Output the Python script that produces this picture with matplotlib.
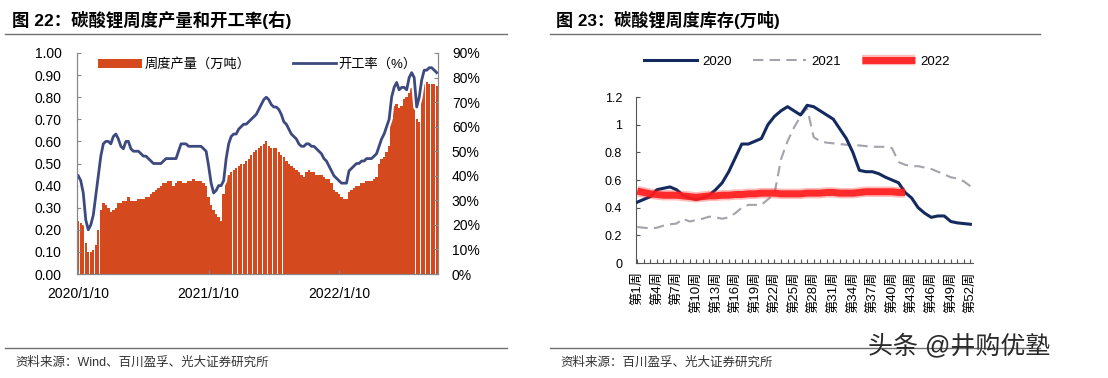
import matplotlib
matplotlib.use("Agg")
import matplotlib.pyplot as plt
import matplotlib.patheffects as pe
import numpy as np

plt.rcParams['font.family'] = ['Liberation Sans', 'Noto Sans CJK SC', 'DejaVu Sans']

# ---- left chart: weekly output (10k t) and operating rate (%) ----
output_wt = [0.24, 0.23, 0.22, 0.14, 0.10, 0.10, 0.11, 0.13, 0.20, 0.29,
             0.32, 0.31, 0.30, 0.28, 0.29, 0.30, 0.32, 0.32, 0.33, 0.33,
             0.35, 0.33, 0.33, 0.33, 0.34, 0.34, 0.34, 0.35, 0.35, 0.36,
             0.37, 0.38, 0.39, 0.40, 0.41, 0.41, 0.42, 0.42, 0.40, 0.41,
             0.42, 0.42, 0.41, 0.41, 0.42, 0.42, 0.43, 0.42, 0.42, 0.42,
             0.41, 0.40, 0.35, 0.31, 0.29, 0.27, 0.26, 0.24, 0.36, 0.42,
             0.45, 0.46, 0.47, 0.48, 0.49, 0.50, 0.50, 0.51, 0.52, 0.54,
             0.55, 0.56, 0.57, 0.58, 0.59, 0.60, 0.58, 0.57, 0.57, 0.57,
             0.55, 0.54, 0.53, 0.51, 0.50, 0.49, 0.48, 0.47, 0.46, 0.45,
             0.44, 0.46, 0.47, 0.46, 0.46, 0.45, 0.45, 0.45, 0.44, 0.43,
             0.43, 0.41, 0.38, 0.37, 0.36, 0.35, 0.34, 0.34, 0.37, 0.38,
             0.39, 0.40, 0.40, 0.41, 0.41, 0.42, 0.42, 0.42, 0.43, 0.44,
             0.50, 0.52, 0.53, 0.55, 0.58, 0.70, 0.76, 0.77, 0.75, 0.76,
             0.79, 0.80, 0.82, 0.84, 0.79, 0.70, 0.69, 0.82, 0.86, 0.87,
             0.86, 0.86, 0.86, 0.85]
op_rate = [40, 38, 33, 22, 18, 20, 24, 32, 40, 48,
           53, 54, 54, 53, 56, 57, 55, 52, 51, 54,
           54, 51, 50, 50, 50, 49, 48, 48, 47, 46,
           45, 45, 45, 45, 46, 47, 47, 47, 47, 47,
           50, 53, 53, 53, 52, 52, 52, 52, 52, 52,
           51, 50, 44, 37, 33, 34, 36, 36, 38, 47,
           53, 56, 57, 57, 59, 60, 61, 61, 62, 63,
           64, 65, 67, 69, 71, 72, 71, 69, 68, 68,
           67, 65, 62, 61, 59, 57, 56, 55, 53, 52,
           52, 53, 53, 52, 52, 51, 50, 49, 47, 46,
           44, 42, 40, 39, 38, 37, 37, 37, 42, 43,
           44, 45, 45, 46, 46, 47, 47, 47, 48, 49,
           52, 55, 57, 60, 63, 72, 76, 78, 75, 76,
           76, 75, 80, 82, 80, 68, 72, 79, 83, 83,
           84, 84, 83, 82]
date_labels = ['2020/1/10', '2021/1/10', '2022/1/10']
date_pos = [0, 52, 104]

# ---- right chart: weekly inventory (10k t) ----
weeks = list(range(1, 53))
inv_2020 = [0.44, 0.46, 0.48, 0.53, 0.54, 0.55, 0.53, 0.49, 0.47, 0.46,
            0.47, 0.49, 0.53, 0.58, 0.66, 0.76, 0.86, 0.86, 0.88, 0.90,
            1.00, 1.06, 1.10, 1.13, 1.10, 1.07, 1.14, 1.13, 1.10, 1.07,
            1.04, 0.97, 0.90, 0.80, 0.67, 0.66, 0.66, 0.645, 0.62, 0.60,
            0.58, 0.51, 0.47, 0.40, 0.36, 0.33, 0.34, 0.34, 0.30, 0.29,
            0.285, 0.28]
inv_2021 = [0.26, 0.255, 0.25, 0.255, 0.27, 0.28, 0.285, 0.32, 0.30, 0.31,
            0.32, 0.335, 0.33, 0.32, 0.33, 0.36, 0.40, 0.42, 0.42, 0.42,
            0.46, 0.50, 0.75, 0.88, 0.98, 1.06, 1.12, 0.91, 0.88, 0.87,
            0.865, 0.86, 0.855, 0.85, 0.85, 0.845, 0.84, 0.84, 0.84, 0.83,
            0.73, 0.71, 0.70, 0.70, 0.69, 0.68, 0.66, 0.64, 0.62, 0.61,
            0.59, 0.555]
inv_2022 = [0.52, 0.51, 0.50, 0.495, 0.49, 0.49, 0.49, 0.485, 0.48, 0.475,
            0.48, 0.485, 0.485, 0.49, 0.49, 0.495, 0.495, 0.50, 0.50, 0.505,
            0.505, 0.505, 0.50, 0.50, 0.50, 0.50, 0.505, 0.505, 0.505, 0.51,
            0.51, 0.505, 0.505, 0.505, 0.51, 0.515, 0.515, 0.515, 0.515, 0.515,
            0.51, 0.51]

fig = plt.figure(figsize=(11.08, 3.78), dpi=100)
W, H = 1108, 378

def px(x0, y0, x1, y1):
    return [x0 / W, 1 - y1 / H, (x1 - x0) / W, (y1 - y0) / H]

# titles, rules, sources
fig.text(12 / W, 1 - 20 / H, '图 22：碳酸锂周度产量和开工率(右)', fontsize=12.5,
         fontweight='bold', va='center', ha='left')
fig.text(556 / W, 1 - 20 / H, '图 23：碳酸锂周度库存(万吨)', fontsize=12.3,
         fontweight='bold', va='center', ha='left')
for x0, x1 in [(5, 507), (550, 1040)]:
    fig.add_artist(plt.Line2D([x0 / W, x1 / W], [1 - 34 / H] * 2, color='#707070', lw=1))
    fig.add_artist(plt.Line2D([x0 / W, x1 / W], [1 - 348 / H] * 2, color='#707070', lw=1))
fig.text(15 / W, 1 - 363 / H, '资料来源：Wind、百川盈孚、光大证券研究所', fontsize=9,
         va='center', ha='left', color='#333333')
fig.text(560 / W, 1 - 363 / H, '资料来源：百川盈孚、光大证券研究所', fontsize=9,
         va='center', ha='left', color='#333333')
fig.text(868 / W, 1 - 346 / H, '头条 @井购优塾', fontsize=18, va='center', ha='left',
         color='#2a2a2a', zorder=10)

# ---- left chart ----
ax = fig.add_axes(px(77, 53, 438, 274))
x = np.arange(len(output_wt))
bars = ax.bar(x, output_wt, width=0.94, color='#d44a1e', linewidth=0,
              label='周度产量（万吨）')
ax.set_xlim(-0.5, len(output_wt) - 0.5)
ax.set_ylim(0, 1.0)
ax.set_yticks(np.arange(0, 1.01, 0.1))
ax.set_yticklabels([f'{v:.2f}' for v in np.arange(0, 1.01, 0.1)])
ax.set_xticks(date_pos)
ax.set_xticklabels(date_labels)
ax.tick_params(axis='y', direction='in', length=3, pad=11, labelsize=10, color='#888888')
ax.tick_params(axis='x', direction='in', length=3, pad=9, labelsize=10, color='#888888')
ax.spines['top'].set_visible(False)
for s in ['left', 'bottom', 'right']:
    ax.spines[s].set_color('#888888')

ax2 = ax.twinx()
line, = ax2.plot(x, op_rate, color='#3d4a7f', lw=2, label='开工率（%）',
                 path_effects=[pe.Stroke(linewidth=5, foreground='white'), pe.Normal()])
ax2.set_ylim(0, 90)
ax2.set_yticks(range(0, 91, 10))
ax2.set_yticklabels([f'{v}%' for v in range(0, 91, 10)])
ax2.tick_params(axis='y', direction='in', length=3, pad=10, labelsize=10, color='#888888')
ax2.spines['top'].set_visible(False)
for s in ['left', 'bottom', 'right']:
    ax2.spines[s].set_color('#888888')

ax2.legend([bars, line], ['周度产量（万吨）', '开工率（%）'], loc='upper center',
           bbox_to_anchor=(0.5, 1.03), ncol=2, frameon=False, fontsize=9.5,
           handlelength=3.3, columnspacing=3.2, handletextpad=0.2)

# ---- right chart ----
bx = fig.add_axes(px(636, 97, 973, 263))
l20, = bx.plot(weeks, inv_2020, color='#142a5e', lw=2.2, zorder=3)
l21, = bx.plot(weeks, inv_2021, color='#a3a3ab', lw=1.5, ls=(0, (5, 3)), zorder=2)
l22, = bx.plot(weeks[:len(inv_2022)], inv_2022, color='#ff1c1c', lw=5, alpha=0.9,
               solid_capstyle='butt', zorder=4,
               path_effects=[pe.Stroke(linewidth=7.5, foreground='#ff1c1c', alpha=0.3), pe.Normal()])
bx.set_xlim(0.8, 52.4)
bx.set_ylim(0, 1.2)
bx.set_yticks(np.arange(0, 1.21, 0.2))
bx.set_yticklabels(['0', '0.2', '0.4', '0.6', '0.8', '1', '1.2'])
bx.set_xticks(weeks)
bx.set_xticklabels([f'第{w}周' if (w - 1) % 3 == 0 else '' for w in weeks], rotation=90)
bx.tick_params(axis='y', direction='in', length=3, pad=10, labelsize=9, color='#555555')
bx.tick_params(axis='x', direction='in', length=3, pad=6, labelsize=9.5, color='#555555')
bx.spines['top'].set_visible(False)
bx.spines['right'].set_visible(False)
for s in ['left', 'bottom']:
    bx.spines[s].set_color('#555555')

fig.legend([l20, l21, l22], ['2020', '2021', '2022'], loc='center',
           bbox_to_anchor=(797 / W, 1 - 62 / H), ncol=3, frameon=False, fontsize=9.5,
           handlelength=4, columnspacing=1.6, handletextpad=0.4)

fig.savefig('out.png', dpi=100)
